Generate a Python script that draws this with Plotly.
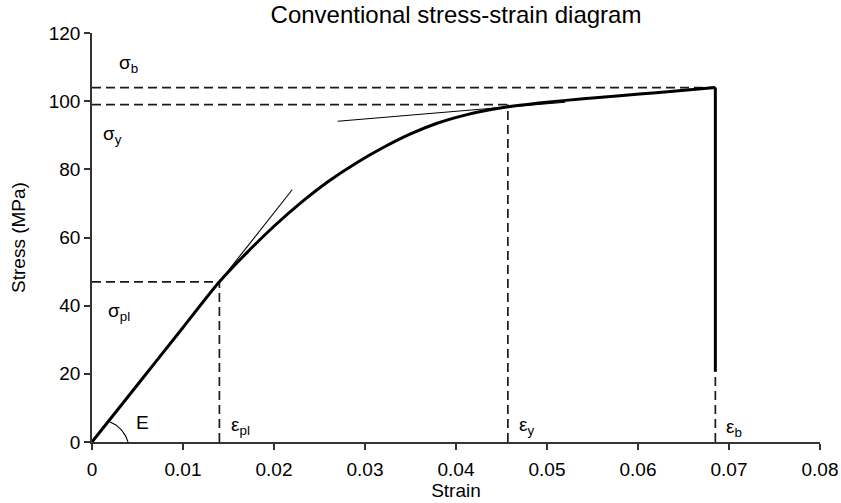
import numpy as np
import plotly.graph_objects as go

# ---- data ----
strain = [0.0, 0.005, 0.010, 0.014, 0.017, 0.020, 0.023, 0.026, 0.029, 0.032,
          0.035, 0.038, 0.041, 0.044, 0.047, 0.050, 0.054, 0.058, 0.062, 0.0685]
stress = [0.0, 16.8, 33.6, 47.0, 55.5, 63.3, 70.3, 76.5, 81.8, 86.4,
          90.4, 93.6, 95.9, 97.6, 98.8, 99.7, 100.7, 101.6, 102.5, 104.0]
fracture_stress_low = 20.6

eps_pl, sig_pl = 0.014, 47.0
eps_y, sig_y = 0.0457, 99.0
eps_b, sig_b = 0.0685, 104.0

tangent1_x = [0.0132, 0.0220]
tangent1_y = [44.3, 74.0]
tangent2_x = [0.0270, 0.0520]
tangent2_y = [94.1, 99.7]

x_ticks = [0, 0.01, 0.02, 0.03, 0.04, 0.05, 0.06, 0.07, 0.08]
x_tick_text = ["0", "0.01", "0.02", "0.03", "0.04", "0.05", "0.06", "0.07", "0.08"]
y_ticks = [0, 20, 40, 60, 80, 100, 120]
y_tick_text = ["0", "20", "40", "60", "80", "100", "120"]

# ---- layout geometry ----
W, H = 841, 503
ML, MR, MT, MB = 92, 21, 33, 61
x_range = [0, 0.08]
y_range = [0, 120]
px_x = (W - ML - MR) / (x_range[1] - x_range[0])
px_y = (H - MT - MB) / (y_range[1] - y_range[0])

FONT = "Liberation Sans, Arial, Helvetica, sans-serif"
dash_style = dict(color="#1a1a1a", width=1.7, dash="9px,5px")

fig = go.Figure()

# dashed guide lines
for (xs, ys) in [
    ([0, eps_pl], [sig_pl, sig_pl]), ([eps_pl, eps_pl], [0, sig_pl]),
    ([0, eps_y], [sig_y, sig_y]), ([eps_y, eps_y], [0, sig_y]),
    ([0, eps_b], [sig_b, sig_b]), ([eps_b, eps_b], [0, fracture_stress_low]),
]:
    fig.add_trace(go.Scatter(x=xs, y=ys, mode="lines", line=dash_style,
                             hoverinfo="skip", showlegend=False))

# tangents
for xs, ys in [(tangent1_x, tangent1_y), (tangent2_x, tangent2_y)]:
    fig.add_trace(go.Scatter(x=xs, y=ys, mode="lines",
                             line=dict(color="black", width=1.1),
                             hoverinfo="skip", showlegend=False))

# main curve
fig.add_trace(go.Scatter(x=strain, y=stress, mode="lines",
                         line=dict(color="black", width=3, shape="spline", smoothing=0.8),
                         showlegend=False))
# fracture drop
fig.add_trace(go.Scatter(x=[strain[-1], strain[-1]], y=[stress[-1], fracture_stress_low],
                         mode="lines", line=dict(color="black", width=3),
                         showlegend=False))

# angle arc for E (radius in pixels, converted to data units)
theta = np.linspace(np.deg2rad(48), 0, 30)
r_px = np.linspace(27, 36, 30)
fig.add_trace(go.Scatter(x=r_px * np.cos(theta) / px_x, y=r_px * np.sin(theta) / px_y,
                         mode="lines", line=dict(color="black", width=1.1),
                         hoverinfo="skip", showlegend=False))

labels = [
    ("σ<sub>b</sub>", 0.0028, 111.0),
    ("σ<sub>y</sub>", 0.0010, 90.0),
    ("σ<sub>pl</sub>", 0.0015, 38.0),
    ("E", 0.0046, 5.6),
    ("ε<sub>pl</sub>", 0.0151, 4.6),
    ("ε<sub>y</sub>", 0.0467, 4.6),
    ("ε<sub>b</sub>", 0.0695, 4.0),
]
for txt, x, y in labels:
    fig.add_annotation(x=x, y=y, text=txt, showarrow=False, xanchor="left", yanchor="middle",
                       font=dict(family=FONT, size=19, color="black"))

axis_common = dict(showgrid=False, zeroline=False, showline=True, linecolor="#333",
                   linewidth=1.5, ticks="outside", ticklen=6, tickwidth=1.5, tickcolor="#333",
                   automargin=False,
                   tickfont=dict(family=FONT, size=19, color="black"))

fig.update_layout(
    width=W, height=H,
    margin=dict(l=ML, r=MR, t=MT, b=MB, autoexpand=False),
    paper_bgcolor="white", plot_bgcolor="white",
    title=dict(text="Conventional stress-strain diagram", x=0.5, xref="paper",
               y=1 - 15 / H, yref="container", yanchor="middle", xanchor="center",
               automargin=False,
               font=dict(family=FONT, size=24, color="black")),
    xaxis=dict(range=x_range, tickvals=x_ticks, ticktext=x_tick_text, ticklabelstandoff=3,
               title=dict(text="Strain", standoff=0, font=dict(family=FONT, size=19, color="black")),
               **axis_common),
    yaxis=dict(range=y_range, tickvals=y_ticks, ticktext=y_tick_text,
               title=dict(text="Stress (MPa)", standoff=18, font=dict(family=FONT, size=19, color="black")),
               **axis_common),
)

fig.write_html("out.html")
